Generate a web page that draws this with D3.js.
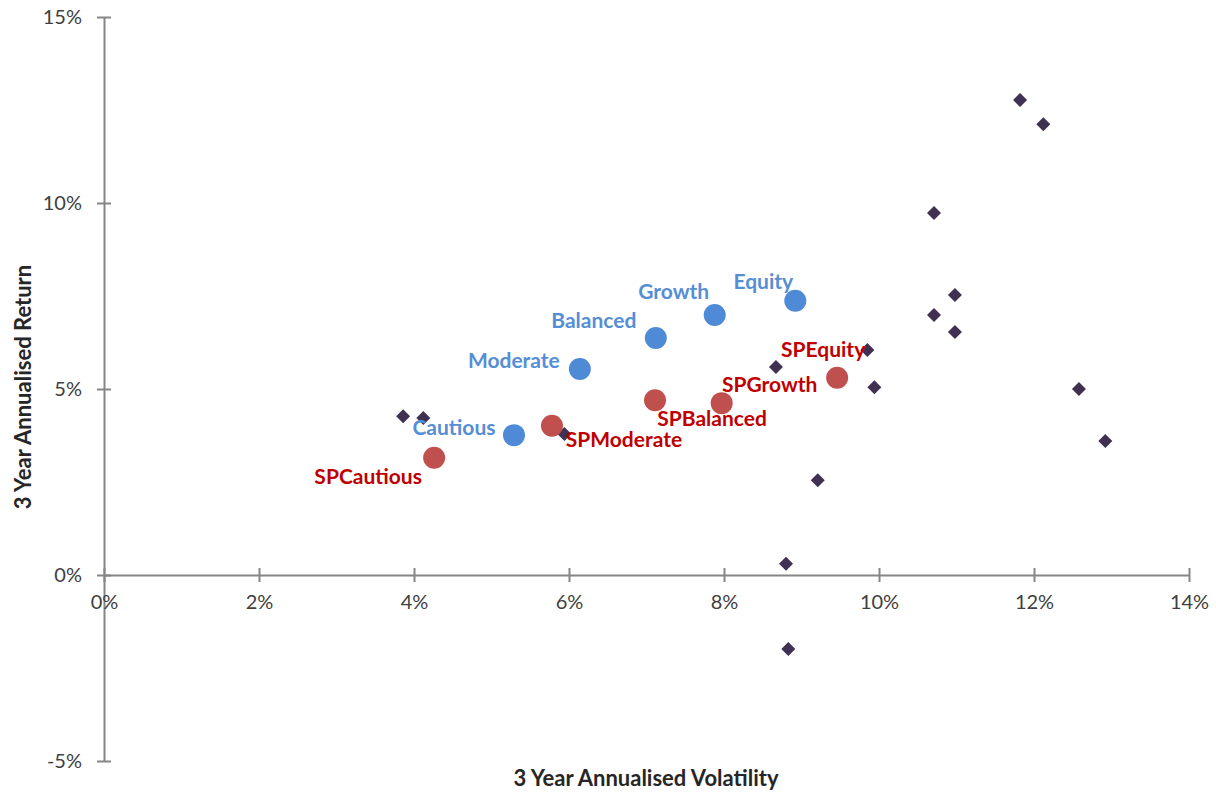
<!DOCTYPE html>
<html>
<head>
<meta charset="utf-8">
<script src="https://cdn.jsdelivr.net/npm/d3@7"></script>
<style>
  body { margin: 0; background: #fff; }
  text { font-family: Lato, "Open Sans", sans-serif; }
</style>
</head>
<body>
<div id="chart"></div>
<script>
// peer funds (diamonds): volatility %, return %
var peerVol = [3.86, 4.12, 5.94, 8.67, 9.85, 9.94, 9.21, 8.80, 8.83, 10.71, 10.71, 10.98, 10.98, 11.82, 12.12, 12.58, 12.92];
var peerRet = [4.27, 4.22, 3.79, 5.59, 6.05, 5.05, 2.55, 0.30, -1.99, 9.73, 6.99, 7.53, 6.53, 12.77, 12.12, 5.00, 3.60];

// portfolios (blue)
var pfNames = ['Cautious', 'Moderate', 'Balanced', 'Growth', 'Equity'];
var pfVol = [5.29, 6.14, 7.12, 7.88, 8.92];
var pfRet = [3.76, 5.54, 6.37, 6.99, 7.37];

// SP portfolios (red)
var spNames = ['SPCautious', 'SPModerate', 'SPBalanced', 'SPGrowth', 'SPEquity'];
var spVol = [4.26, 5.78, 7.11, 7.97, 9.46];
var spRet = [3.15, 4.01, 4.70, 4.62, 5.30];

var xTicks = [0, 2, 4, 6, 8, 10, 12, 14];
var yTicks = [-5, 0, 5, 10, 15];

// label offsets from the marker (dx, dy), set by hand like the original
var labelPos = {
  Cautious: [-60, -7], Moderate: [-66, -8], Balanced: [-62, -17], Growth: [-41, -23], Equity: [-32, -19],
  SPCautious: [-66, 19], SPModerate: [72, 14], SPBalanced: [57, 18], SPGrowth: [48, -18], SPEquity: [-14, -28]
};

var width = 1216, height = 792;
var svg = d3.select('#chart').append('svg').attr('width', width).attr('height', height);

var x = d3.scaleLinear().domain([0, 14]).range([104, 1189]);
var y = d3.scaleLinear().domain([-5, 15]).range([761, 17]);
var axisColor = '#868686';

// y axis (cross ticks)
var yAxis = svg.append('g').attr('transform', 'translate(' + x(0) + ',0)')
    .call(d3.axisLeft(y).tickValues(yTicks).tickSize(0).tickFormat(function(d) { return d + '%'; }));
yAxis.select('.domain').attr('stroke', axisColor).attr('stroke-width', 2);
yAxis.selectAll('.tick').append('line').attr('x1', -7).attr('x2', 7).attr('stroke', axisColor).attr('stroke-width', 2);
yAxis.selectAll('.tick text').attr('x', -22).style('font-size', '20px').attr('fill', '#404040');

// x axis at zero (cross ticks)
var xAxis = svg.append('g').attr('transform', 'translate(0,' + y(0) + ')')
    .call(d3.axisBottom(x).tickValues(xTicks).tickSize(0).tickFormat(function(d) { return d + '%'; }));
xAxis.select('.domain').attr('stroke', axisColor).attr('stroke-width', 2);
xAxis.selectAll('.tick').append('line').attr('y1', -7).attr('y2', 7).attr('stroke', axisColor).attr('stroke-width', 2);
xAxis.selectAll('.tick text').attr('y', 20).style('font-size', '20px').attr('fill', '#404040');

// axis titles
svg.append('text').attr('x', 646).attr('y', 786).attr('text-anchor', 'middle')
  .style('font-size', '22px').style('font-weight', 'bold').attr('fill', '#262626')
  .text('3 Year Annualised Volatility');
svg.append('text').attr('transform', 'translate(31,387) rotate(-90)').attr('text-anchor', 'middle')
  .style('font-size', '22px').style('font-weight', 'bold').attr('fill', '#262626')
  .text('3 Year Annualised Return');

// peers
var diamond = d3.symbol().type(d3.symbolSquare).size(98);
svg.append('g').selectAll('path')
    .data(d3.range(peerVol.length))
  .enter().append('path')
    .attr('d', diamond)
    .attr('transform', function(i) { return 'translate(' + x(peerVol[i]) + ',' + y(peerRet[i]) + ') rotate(45)'; })
    .attr('fill', '#403152');

function drawSeries(names, vols, rets, fill, labelColor) {
  var g = svg.append('g');
  g.selectAll('circle')
      .data(names)
    .enter().append('circle')
      .attr('cx', function(d, i) { return x(vols[i]); })
      .attr('cy', function(d, i) { return y(rets[i]); })
      .attr('r', 11)
      .attr('fill', fill);
  g.selectAll('text')
      .data(names)
    .enter().append('text')
      .attr('x', function(d, i) { return x(vols[i]) + labelPos[d][0]; })
      .attr('y', function(d, i) { return y(rets[i]) + labelPos[d][1]; })
      .attr('text-anchor', 'middle')
      .attr('dy', '0.35em')
      .style('font-size', '21px')
      .style('font-weight', 'bold')
      .attr('fill', labelColor)
      .text(function(d) { return d; });
}

drawSeries(pfNames, pfVol, pfRet, '#4F8AD6', '#558ED5');
drawSeries(spNames, spVol, spRet, '#C0504D', '#C00000');
</script>
</body>
</html>
